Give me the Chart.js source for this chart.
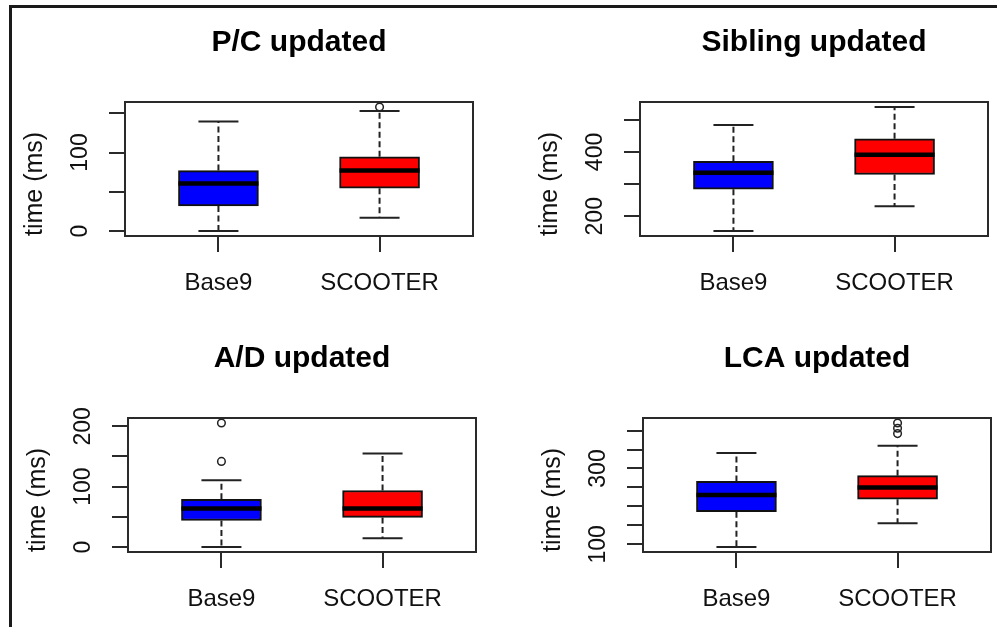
<!DOCTYPE html>
<html>
<head>
<meta charset="utf-8">
<title>update times</title>
<script src="https://cdn.jsdelivr.net/npm/chart.js@4.4.1/dist/chart.umd.min.js"></script>
<style>
  body { margin: 0; background: #fff; }
  #page { position: relative; width: 997px; height: 627px; overflow: hidden; }
  #frame { position: absolute; left: 9px; top: 5px; width: 1000px; height: 640px; border-left: 3px solid #1a1a1a; border-top: 3px solid #1a1a1a; }
  .cell { position: absolute; width: 479px; height: 311px; }
</style>
</head>
<body>
<div id="page">
  <div id="frame"></div>
  <div class="cell" style="left:0px;top:0px"><canvas id="pcChart"></canvas></div>
  <div class="cell" style="left:515px;top:0px"><canvas id="siblingChart"></canvas></div>
  <div class="cell" style="left:3px;top:316px"><canvas id="adChart"></canvas></div>
  <div class="cell" style="left:518px;top:316px"><canvas id="lcaChart"></canvas></div>
</div>
<script>
const groups = ['Base9', 'SCOOTER']
const boxColors = ['#0000ff', '#ff0000']

// P/C updated
const pcLow = [0, 17]
const pcQ1 = [32, 54.6]
const pcMedian = [60.5, 77]
const pcQ3 = [77, 94.5]
const pcHigh = [139.6, 153]
const pcOutliers = [[], [158]]
const pcTickLabels = [0, 100]

// Sibling updated
const sibLow = [154, 231]
const sibQ1 = [284, 330]
const sibMedian = [335, 391]
const sibQ3 = [371, 441]
const sibHigh = [484, 540]
const sibOutliers = [[], []]
const sibTickLabels = [200, 400]

// A/D updated
const adLow = [0, 14.7]
const adQ1 = [44, 49]
const adMedian = [63.8, 63.8]
const adQ3 = [79, 93.7]
const adHigh = [110.7, 155]
const adOutliers = [[141.8, 205.5], []]
const adTickLabels = [0, 100, 200]

// LCA updated
const lcaLow = [93, 155.6]
const lcaQ1 = [186, 219]
const lcaMedian = [230, 250]
const lcaQ3 = [266, 281]
const lcaHigh = [341, 360]
const lcaOutliers = [[], [392, 406, 420]]
const lcaTickLabels = [100, 300]

Chart.defaults.font.family = "'Liberation Sans', Arial, sans-serif"
Chart.defaults.color = '#111'

const axisLine = '#2a2a2a'

function boxChart(id, title, low, q1, median, q3, high, outliers, tickLabels, step) {
    // R style range: data extent plus 4% each side
    const all = low.concat(high, outliers.flat())
    const lo = Math.min(...all)
    const hi = Math.max(...all)
    const pad = (hi - lo) * 0.04

    const whiskers = {
        id: 'whiskers',
        afterDatasetsDraw(chart) {
            const ctx = chart.ctx
            const x = chart.scales.x
            const y = chart.scales.y
            const bars = chart.getDatasetMeta(0).data
            ctx.save()
            bars.forEach((bar, i) => {
                const cx = x.getPixelForValue(i + 1)
                const half = bar.width / 2
                ctx.strokeStyle = '#222'
                ctx.lineWidth = 2
                ctx.setLineDash([6, 3.5])
                ctx.beginPath()
                ctx.moveTo(cx, y.getPixelForValue(q3[i]))
                ctx.lineTo(cx, y.getPixelForValue(high[i]))
                ctx.moveTo(cx, y.getPixelForValue(q1[i]))
                ctx.lineTo(cx, y.getPixelForValue(low[i]))
                ctx.stroke()
                ctx.setLineDash([])
                ctx.beginPath()
                for (const v of [high[i], low[i]]) {
                    const py = y.getPixelForValue(v)
                    ctx.moveTo(cx - half / 2, py)
                    ctx.lineTo(cx + half / 2, py)
                }
                ctx.stroke()
                // median
                ctx.strokeStyle = '#000'
                ctx.lineWidth = 4.5
                ctx.beginPath()
                const my = y.getPixelForValue(median[i])
                ctx.moveTo(cx - half, my)
                ctx.lineTo(cx + half, my)
                ctx.stroke()
            })
            ctx.restore()
        },
        afterDraw(chart) {
            const {ctx, chartArea} = chart
            ctx.save()
            ctx.strokeStyle = axisLine
            ctx.lineWidth = 2
            ctx.strokeRect(chartArea.left, chartArea.top, chartArea.right - chartArea.left, chartArea.bottom - chartArea.top)
            ctx.restore()
        }
    }

    new Chart(document.getElementById(id), {
        type: 'bar',
        data: {
            datasets: [
                {
                    data: groups.map((g, i) => ({x: i + 1, y: [q1[i], q3[i]]})),
                    backgroundColor: boxColors,
                    borderColor: '#111',
                    borderWidth: 2,
                    borderSkipped: false,
                    barThickness: 80
                },
                {
                    type: 'scatter',
                    data: outliers.flatMap((list, i) => list.map(v => ({x: i + 1, y: v}))),
                    pointStyle: 'circle',
                    pointRadius: 3.8,
                    borderColor: '#222',
                    borderWidth: 1.5,
                    backgroundColor: 'rgba(255,255,255,0)',
                    clip: false
                }
            ]
        },
        options: {
            responsive: true,
            maintainAspectRatio: false,
            animation: false,
            events: [],
            layout: {padding: {left: 0, right: 6, top: 0, bottom: 0}},
            plugins: {
                legend: {display: false},
                tooltip: {enabled: false},
                title: {
                    display: true,
                    text: title,
                    fullSize: false,
                    color: '#000',
                    font: {size: 30, weight: 'bold'},
                    padding: {top: 25, bottom: 41}
                }
            },
            scales: {
                x: {
                    type: 'linear',
                    min: 0.42,
                    max: 2.58,
                    offset: false,
                    afterFit: s => { s.height = 75 },
                    border: {display: false},
                    grid: {drawOnChartArea: false, offset: false, tickLength: 16, lineWidth: 2, color: axisLine},
                    ticks: {
                        stepSize: 1,
                        includeBounds: false,
                        autoSkip: false,
                        maxRotation: 0,
                        padding: 17,
                        color: '#111',
                        font: {size: 24},
                        callback: v => groups[v - 1]
                    }
                },
                y: {
                    min: lo - pad,
                    max: hi + pad,
                    afterFit: s => { s.width = 125 },
                    border: {display: false},
                    grid: {drawOnChartArea: false, tickLength: 16, lineWidth: 2, color: axisLine},
                    title: {
                        display: true,
                        text: 'time (ms)',
                        align: 'start',
                        color: '#111',
                        font: {size: 25},
                        padding: {top: 20, bottom: 0}
                    },
                    ticks: {
                        stepSize: step,
                        includeBounds: false,
                        autoSkip: false,
                        minRotation: 90,
                        maxRotation: 90,
                        crossAlign: 'center',
                        padding: 9,
                        color: '#111',
                        font: {size: 23},
                        callback: v => tickLabels.includes(v) ? String(v) : ''
                    }
                }
            }
        },
        plugins: [whiskers]
    })
}

boxChart('pcChart', 'P/C updated', pcLow, pcQ1, pcMedian, pcQ3, pcHigh, pcOutliers, pcTickLabels, 50)
boxChart('siblingChart', 'Sibling updated', sibLow, sibQ1, sibMedian, sibQ3, sibHigh, sibOutliers, sibTickLabels, 100)
boxChart('adChart', 'A/D updated', adLow, adQ1, adMedian, adQ3, adHigh, adOutliers, adTickLabels, 50)
boxChart('lcaChart', 'LCA updated', lcaLow, lcaQ1, lcaMedian, lcaQ3, lcaHigh, lcaOutliers, lcaTickLabels, 50)
</script>
</body>
</html>
